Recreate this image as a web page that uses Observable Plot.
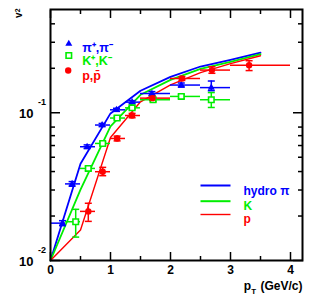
<!DOCTYPE html>
<html><head><meta charset="utf-8">
<script src="https://cdn.jsdelivr.net/npm/d3@7"></script>
<script src="https://cdn.jsdelivr.net/npm/@observablehq/plot@0.6"></script>
<style>body{margin:0;background:#fff} svg{display:block}</style>
</head><body><div id="chart"></div>
<script>
// hydro curves
const hydroPt = [0, 0.5, 1.0, 1.5, 2.0, 2.5, 3.0, 3.5];
const hydroPi = [0.01, 0.0452, 0.099, 0.141, 0.175, 0.2056, 0.228, 0.255];
const hydroK  = [0.01, 0.0302, 0.081, 0.1324, 0.167, 0.198, 0.2214, 0.249];
const hydroP  = [0.01, 0.0161, 0.068, 0.1186, 0.1545, 0.187, 0.215, 0.243];

// pions
const piPt  = [0.2, 0.36, 0.61, 0.86, 1.1, 1.36, 1.69, 2.18, 2.68];
const piV2  = [0.0179, 0.033, 0.0589, 0.0826, 0.1047, 0.118, 0.135, 0.154, 0.148];
const piYLo = [0.0172, 0.0318, 0.0572, 0.0805, 0.1022, 0.1152, 0.131, 0.149, 0.141];
const piYHi = [0.0186, 0.0342, 0.0606, 0.0847, 0.1072, 0.1208, 0.139, 0.159, 0.164];
const piXLo = [0, 0.25, 0.5, 0.75, 1.0, 1.25, 1.5, 2.0, 2.5];
const piXHi = [0.25, 0.5, 0.75, 1.0, 1.25, 1.5, 2.0, 2.5, 3.0];

// kaons
const kPt  = [0.42, 0.63, 0.87, 1.11, 1.36, 1.71, 2.18, 2.68];
const kV2  = [0.0183, 0.042, 0.062, 0.0921, 0.108, 0.1225, 0.129, 0.1225];
const kYLo = [0.0144, 0.0405, 0.0602, 0.0896, 0.1052, 0.119, 0.125, 0.1086];
const kYHi = [0.0222, 0.0435, 0.0638, 0.0946, 0.1108, 0.126, 0.133, 0.137];
const kXLo = [0.25, 0.5, 0.75, 1.0, 1.25, 1.5, 2.0, 2.5];
const kXHi = [0.5, 0.75, 1.0, 1.25, 1.5, 2.0, 2.5, 3.0];

// protons
const pPt  = [0.63, 0.87, 1.11, 1.36, 1.70, 2.19, 2.69, 3.31];
const pV2  = [0.0215, 0.0399, 0.067, 0.0958, 0.1256, 0.1706, 0.1945, 0.210];
const pYLo = [0.0184, 0.0375, 0.0645, 0.0925, 0.1215, 0.1655, 0.185, 0.193];
const pYHi = [0.0244, 0.0427, 0.0695, 0.099, 0.1297, 0.1757, 0.205, 0.225];
const pXLo = [0.5, 0.75, 1.0, 1.25, 1.5, 2.0, 2.5, 3.0];
const pXHi = [0.75, 1.0, 1.25, 1.5, 2.0, 2.5, 3.0, 4.0];

// ticks
const xMajor = [0, 1, 2, 3, 4];
const xMinor = [0.5, 1.5, 2.5, 3.5];
const yMajor = [0.01, 0.1];
const yMajorExp = ["-2", "-1"];
const yMinor = [0.02, 0.03, 0.04, 0.05, 0.06, 0.07, 0.08, 0.2, 0.3, 0.4];

const BLUE = "#0000ff", GREEN = "#00ee00", RED = "#ff0000";
const F = "'Liberation Sans', Arial, Helvetica, sans-serif";

const rows = (pt, v, ylo, yhi, xlo, xhi) => pt.map((p, i) => ({pt: p, v: v[i], ylo: ylo[i], yhi: yhi[i], xlo: xlo[i], xhi: xhi[i]}));
const pi = rows(piPt, piV2, piYLo, piYHi, piXLo, piXHi);
const ka = rows(kPt, kV2, kYLo, kYHi, kXLo, kXHi);
const pr = rows(pPt, pV2, pYLo, pYHi, pXLo, pXHi);
const hydro = hydroPt.map((p, i) => ({pt: p, pi: hydroPi[i], k: hydroK[i], p: hydroP[i]}));

const hbar = {draw(ctx, size) { const r = Math.sqrt(size / Math.PI); ctx.moveTo(-r, 0); ctx.lineTo(r, 0); }};

function errMarks(data, color) {
  return [
    Plot.ruleY(data, {y: "v", x1: "xlo", x2: "xhi", stroke: color, strokeWidth: 1.5}),
    Plot.ruleX(data, {x: "pt", y1: "ylo", y2: "yhi", stroke: color, strokeWidth: 1.5}),
    Plot.dot(data, {x: "pt", y: "ylo", symbol: hbar, r: 3.5, stroke: color, strokeWidth: 1.5, fill: "none"}),
    Plot.dot(data, {x: "pt", y: "yhi", symbol: hbar, r: 3.5, stroke: color, strokeWidth: 1.5, fill: "none"})
  ];
}

const tick = (axis, data, anchor, size) => axis(data, {anchor, tickSize: -size, tickFormat: () => "", label: null, strokeWidth: 1.5});

const txt = (s, o) => Plot.text([s], {text: d => d, fontFamily: F, fontWeight: "bold", ...o});

const chart = Plot.plot({
  width: 311, height: 301,
  marginLeft: 50, marginRight: 9, marginTop: 9, marginBottom: 41,
  style: {fontFamily: F, background: "#fff"},
  x: {domain: [0, 4.2]},
  y: {type: "log", domain: [0.01, 0.5]},
  marks: [
    tick(Plot.axisX, xMajor, "bottom", 8),
    tick(Plot.axisX, xMinor, "bottom", 4),
    tick(Plot.axisX, xMajor, "top", 8),
    tick(Plot.axisX, xMinor, "top", 4),
    tick(Plot.axisY, yMajor, "left", 10),
    tick(Plot.axisY, yMinor, "left", 5),
    tick(Plot.axisY, yMajor, "right", 10),
    tick(Plot.axisY, yMinor, "right", 5),
    Plot.line(hydro, {x: "pt", y: "pi", stroke: BLUE, strokeWidth: 1.8}),
    Plot.line(hydro, {x: "pt", y: "k", stroke: GREEN, strokeWidth: 1.8}),
    Plot.line(hydro, {x: "pt", y: "p", stroke: RED, strokeWidth: 1.4}),
    ...errMarks(pi, BLUE),
    ...errMarks(ka, GREEN),
    ...errMarks(pr, RED),
    Plot.dot(pi, {x: "pt", y: "v", symbol: "triangle", r: 2.6, fill: BLUE}),
    Plot.dot(ka, {x: "pt", y: "v", symbol: "square", r: 3.1, fill: "#fff", stroke: GREEN, strokeWidth: 1.6}),
    Plot.dot(pr, {x: "pt", y: "v", symbol: "circle", r: 3.2, fill: RED}),
    Plot.frame({stroke: "#000", strokeWidth: 2}),
    // axis labels
    Plot.text(xMajor, {x: d => d, frameAnchor: "bottom", dy: 13, text: d => String(d), fontSize: 12, fontWeight: "bold", fontFamily: F}),
    Plot.text(yMajor, {y: d => d, frameAnchor: "left", dx: -17, dy: 1, textAnchor: "end", text: () => "10", fontSize: 13, fontWeight: "bold", fontFamily: F}),
    Plot.text(yMajor, {y: d => d, frameAnchor: "left", dx: -12.5, dy: -10.5, textAnchor: "start", text: (d, i) => yMajorExp[i], fontSize: 9, fontWeight: "bold", fontFamily: F}),
    txt("p", {frameAnchor: "bottom-right", dx: -58.7, dy: 29, textAnchor: "start", fontSize: 12}),
    txt("T", {frameAnchor: "bottom-right", dx: -51.3, dy: 33, textAnchor: "start", fontSize: 8}),
    txt("(GeV/c)", {frameAnchor: "bottom-right", dx: 0, dy: 29, textAnchor: "end", fontSize: 12}),
    txt("v", {frameAnchor: "top-left", dx: -35.3, dy: 8.5, rotate: -90, fontSize: 10}),
    txt("2", {frameAnchor: "top-left", dx: -35, dy: 2.7, rotate: -90, fontSize: 7}),
    // marker legend
    Plot.dot([0], {frameAnchor: "top-left", dx: 18.3, dy: 34.3, symbol: "triangle", r: 2.6, fill: BLUE}),
    Plot.dot([0], {frameAnchor: "top-left", dx: 18.3, dy: 46, symbol: "square", r: 3.1, fill: "#fff", stroke: GREEN, strokeWidth: 1.6}),
    Plot.dot([0], {frameAnchor: "top-left", dx: 17.7, dy: 61, symbol: "circle", r: 3.2, fill: RED}),
    txt("π⁺,π⁻", {frameAnchor: "top-left", dx: 31.7, dy: 34, textAnchor: "start", fontSize: 12.5, fill: BLUE}),
    txt("K⁺,K⁻", {frameAnchor: "top-left", dx: 31.7, dy: 46.5, textAnchor: "start", fontSize: 12.5, fill: GREEN}),
    txt("p,p̄", {frameAnchor: "top-left", dx: 31.7, dy: 61.2, textAnchor: "start", fontSize: 12.5, fill: RED}),
    // hydro legend
    Plot.dot([0], {frameAnchor: "top-left", dx: 165, dy: 176, symbol: hbar, r: 15, stroke: BLUE, strokeWidth: 2, fill: "none"}),
    Plot.dot([0], {frameAnchor: "top-left", dx: 165, dy: 191.7, symbol: hbar, r: 15, stroke: GREEN, strokeWidth: 2, fill: "none"}),
    Plot.dot([0], {frameAnchor: "top-left", dx: 165, dy: 205, symbol: hbar, r: 15, stroke: RED, strokeWidth: 1.4, fill: "none"}),
    txt("hydro π", {frameAnchor: "top-left", dx: 193, dy: 176.5, textAnchor: "start", fontSize: 12, fill: BLUE}),
    txt("K", {frameAnchor: "top-left", dx: 193, dy: 191.5, textAnchor: "start", fontSize: 12, fill: GREEN}),
    txt("p", {frameAnchor: "top-left", dx: 193, dy: 204.5, textAnchor: "start", fontSize: 12, fill: RED})
  ]
});
document.getElementById("chart").appendChild(chart);
</script>
</body></html>
